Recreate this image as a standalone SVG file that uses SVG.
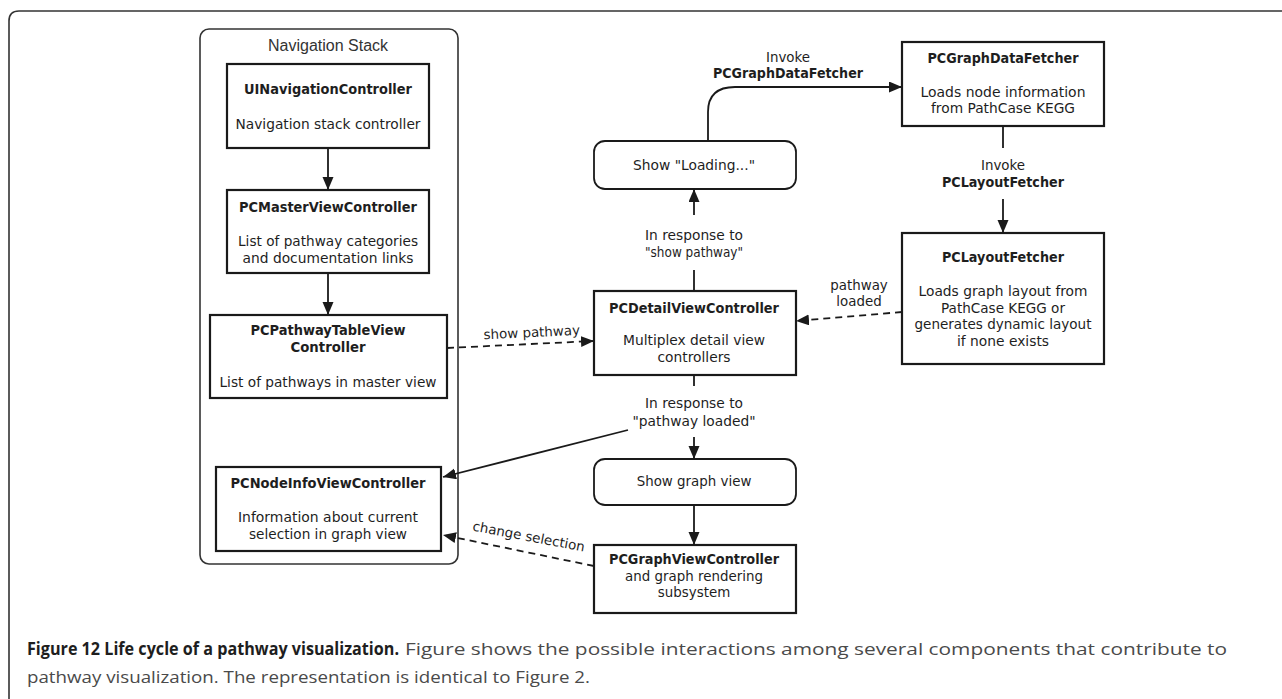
<svg xmlns="http://www.w3.org/2000/svg" width="1282" height="699" viewBox="0 0 1282 699">
  <defs>
    <marker id="arrow" markerUnits="userSpaceOnUse" markerWidth="14" markerHeight="12" refX="13" refY="5.5" orient="auto">
      <path d="M0,0 L13,5.5 L0,11 Z" fill="#1a1a1a"/>
    </marker>
    <style>
      .frame { fill: none; stroke: #333; stroke-width: 1.6; }
      .group { fill: #fff; stroke: #333; stroke-width: 1.6; }
      .box { fill: #fff; stroke: #1a1a1a; stroke-width: 2.2; }
      .step { fill: #fff; stroke: #1a1a1a; stroke-width: 1.8; }
      .edge { fill: none; stroke: #1a1a1a; stroke-width: 1.8; }
      .dash { stroke-dasharray: 7 5; }
      text { font-family: "DejaVu Sans", "Liberation Sans", sans-serif; fill: #1e1e1e; text-anchor: middle; }
      .t { font-weight: bold; font-size: 13.6px; }
      .s { font-size: 13.4px; }
      .hdr { font-family: "Liberation Sans", Arial, sans-serif; font-size: 16px; fill: #333; }
      .cap { font-family: "Open Sans", "Liberation Sans", sans-serif; font-size: 17px; text-anchor: start; }
      .capb { font-weight: bold; fill: #1e1e1e; }
      .capr { fill: #4a4a4a; }
    </style>
  </defs>

  <rect width="1282" height="699" fill="#fff"/>
  <!-- page frame: top rule and left rule with rounded corner -->
  <path class="frame" d="M9,699 V21 Q9,11 19,11 H1282"/>

  <!-- navigation stack container -->
  <g id="navigation-stack">
    <rect class="group" x="200" y="29" width="258" height="535" rx="9"/>
    <text class="hdr" x="328" y="51">Navigation Stack</text>
  </g>

  <g id="ui-navigation-controller">
    <rect class="box" x="227" y="64" width="202" height="84"/>
    <text class="t" x="328" y="94" textLength="168" lengthAdjust="spacingAndGlyphs">UINavigationController</text>
    <text class="s" x="328" y="129" textLength="185" lengthAdjust="spacingAndGlyphs">Navigation stack controller</text>
  </g>

  <g id="pc-master-view-controller">
    <rect class="box" x="227" y="190" width="202" height="83"/>
    <text class="t" x="328" y="212" textLength="178" lengthAdjust="spacingAndGlyphs">PCMasterViewController</text>
    <text class="s" x="328" y="246" textLength="180" lengthAdjust="spacingAndGlyphs">List of pathway categories</text>
    <text class="s" x="328" y="263" textLength="171" lengthAdjust="spacingAndGlyphs">and documentation links</text>
  </g>

  <g id="pc-pathway-table-view-controller">
    <rect class="box" x="210" y="315" width="237" height="83"/>
    <text class="t" x="328" y="335" textLength="155" lengthAdjust="spacingAndGlyphs">PCPathwayTableView</text>
    <text class="t" x="328" y="352" textLength="75" lengthAdjust="spacingAndGlyphs">Controller</text>
    <text class="s" x="328" y="387" textLength="217" lengthAdjust="spacingAndGlyphs">List of pathways in master view</text>
  </g>

  <g id="pc-node-info-view-controller">
    <rect class="box" x="216" y="467" width="225" height="84"/>
    <text class="t" x="328" y="488" textLength="195" lengthAdjust="spacingAndGlyphs">PCNodeInfoViewController</text>
    <text class="s" x="328" y="522" textLength="180" lengthAdjust="spacingAndGlyphs">Information about current</text>
    <text class="s" x="328" y="539" textLength="158" lengthAdjust="spacingAndGlyphs">selection in graph view</text>
  </g>

  <g id="show-loading">
    <rect class="step" x="594" y="141" width="202" height="48" rx="11"/>
    <text class="s" x="694" y="170" textLength="122" lengthAdjust="spacingAndGlyphs">Show "Loading..."</text>
  </g>

  <g id="pc-detail-view-controller">
    <rect class="box" x="594" y="291" width="202" height="84"/>
    <text class="t" x="694" y="313" textLength="170" lengthAdjust="spacingAndGlyphs">PCDetailViewController</text>
    <text class="s" x="694" y="345" textLength="142" lengthAdjust="spacingAndGlyphs">Multiplex detail view</text>
    <text class="s" x="694" y="362" textLength="73" lengthAdjust="spacingAndGlyphs">controllers</text>
  </g>

  <g id="show-graph-view">
    <rect class="step" x="594" y="459" width="202" height="46" rx="11"/>
    <text class="s" x="694" y="486">Show graph view</text>
  </g>

  <g id="pc-graph-view-controller">
    <rect class="box" x="594" y="545" width="202" height="68"/>
    <text class="t" x="694" y="564" textLength="170" lengthAdjust="spacingAndGlyphs">PCGraphViewController</text>
    <text class="s" x="694" y="581">and graph rendering</text>
    <text class="s" x="694" y="597">subsystem</text>
  </g>

  <g id="pc-graph-data-fetcher">
    <rect class="box" x="902" y="42" width="202" height="84"/>
    <text class="t" x="1003" y="63" textLength="151" lengthAdjust="spacingAndGlyphs">PCGraphDataFetcher</text>
    <text class="s" x="1003" y="97" textLength="165" lengthAdjust="spacingAndGlyphs">Loads node information</text>
    <text class="s" x="1003" y="113" textLength="144" lengthAdjust="spacingAndGlyphs">from PathCase KEGG</text>
  </g>

  <g id="pc-layout-fetcher">
    <rect class="box" x="902" y="233" width="202" height="131"/>
    <text class="t" x="1003" y="262" textLength="122" lengthAdjust="spacingAndGlyphs">PCLayoutFetcher</text>
    <text class="s" x="1003" y="296" textLength="169" lengthAdjust="spacingAndGlyphs">Loads graph layout from</text>
    <text class="s" x="1003" y="313" textLength="124" lengthAdjust="spacingAndGlyphs">PathCase KEGG or</text>
    <text class="s" x="1003" y="329" textLength="177" lengthAdjust="spacingAndGlyphs">generates dynamic layout</text>
    <text class="s" x="1003" y="346" textLength="92" lengthAdjust="spacingAndGlyphs">if none exists</text>
  </g>

  <!-- connectors and their labels -->
  <g id="connectors">
    <line class="edge" x1="328" y1="148" x2="328" y2="190" marker-end="url(#arrow)"/>
    <line class="edge" x1="328" y1="273" x2="328" y2="315" marker-end="url(#arrow)"/>

    <line class="edge dash" x1="447" y1="348" x2="594" y2="341" marker-end="url(#arrow)"/>
    <text class="s" x="532" y="337" transform="rotate(-2.7 532 337)">show pathway</text>

    <line class="edge" x1="694" y1="270" x2="694" y2="291"/>
    <text class="s" x="694" y="240" textLength="98" lengthAdjust="spacingAndGlyphs">In response to</text>
    <text class="s" x="694" y="257" textLength="98" lengthAdjust="spacingAndGlyphs">"show pathway"</text>
    <line class="edge" x1="694" y1="215" x2="694" y2="189" marker-end="url(#arrow)"/>

    <path class="edge" d="M708,141 V112 Q708,87 735,87 H902" marker-end="url(#arrow)"/>
    <text class="s" x="788" y="62">Invoke</text>
    <text class="t" x="788" y="78" textLength="150" lengthAdjust="spacingAndGlyphs">PCGraphDataFetcher</text>

    <line class="edge" x1="1003" y1="126" x2="1003" y2="148"/>
    <text class="s" x="1003" y="170">Invoke</text>
    <text class="t" x="1003" y="187" textLength="122" lengthAdjust="spacingAndGlyphs">PCLayoutFetcher</text>
    <line class="edge" x1="1003" y1="199" x2="1003" y2="233" marker-end="url(#arrow)"/>

    <line class="edge dash" x1="902" y1="312" x2="796" y2="321" marker-end="url(#arrow)"/>
    <text class="s" x="859" y="290">pathway</text>
    <text class="s" x="859" y="306">loaded</text>

    <line class="edge" x1="694" y1="375" x2="694" y2="386"/>
    <text class="s" x="694" y="408" textLength="98" lengthAdjust="spacingAndGlyphs">In response to</text>
    <text class="s" x="694" y="426" textLength="123" lengthAdjust="spacingAndGlyphs">"pathway loaded"</text>
    <line class="edge" x1="694" y1="437" x2="694" y2="459" marker-end="url(#arrow)"/>
    <line class="edge" x1="628" y1="430" x2="443" y2="477" marker-end="url(#arrow)"/>

    <line class="edge" x1="694" y1="505" x2="694" y2="545" marker-end="url(#arrow)"/>

    <line class="edge dash" x1="594" y1="566" x2="443" y2="535" marker-end="url(#arrow)"/>
    <text class="s" x="528" y="541" transform="rotate(10.7 528 541)">change selection</text>
  </g>

  <!-- figure caption -->
  <g id="caption">
    <text class="cap capb" x="27" y="655" textLength="372" lengthAdjust="spacingAndGlyphs">Figure 12 Life cycle of a pathway visualization.</text>
    <text class="cap capr" x="405" y="655" textLength="822" lengthAdjust="spacingAndGlyphs">Figure shows the possible interactions among several components that contribute to</text>
    <text class="cap capr" x="27" y="683" textLength="563" lengthAdjust="spacingAndGlyphs">pathway visualization. The representation is identical to Figure 2.</text>
  </g>
</svg>
